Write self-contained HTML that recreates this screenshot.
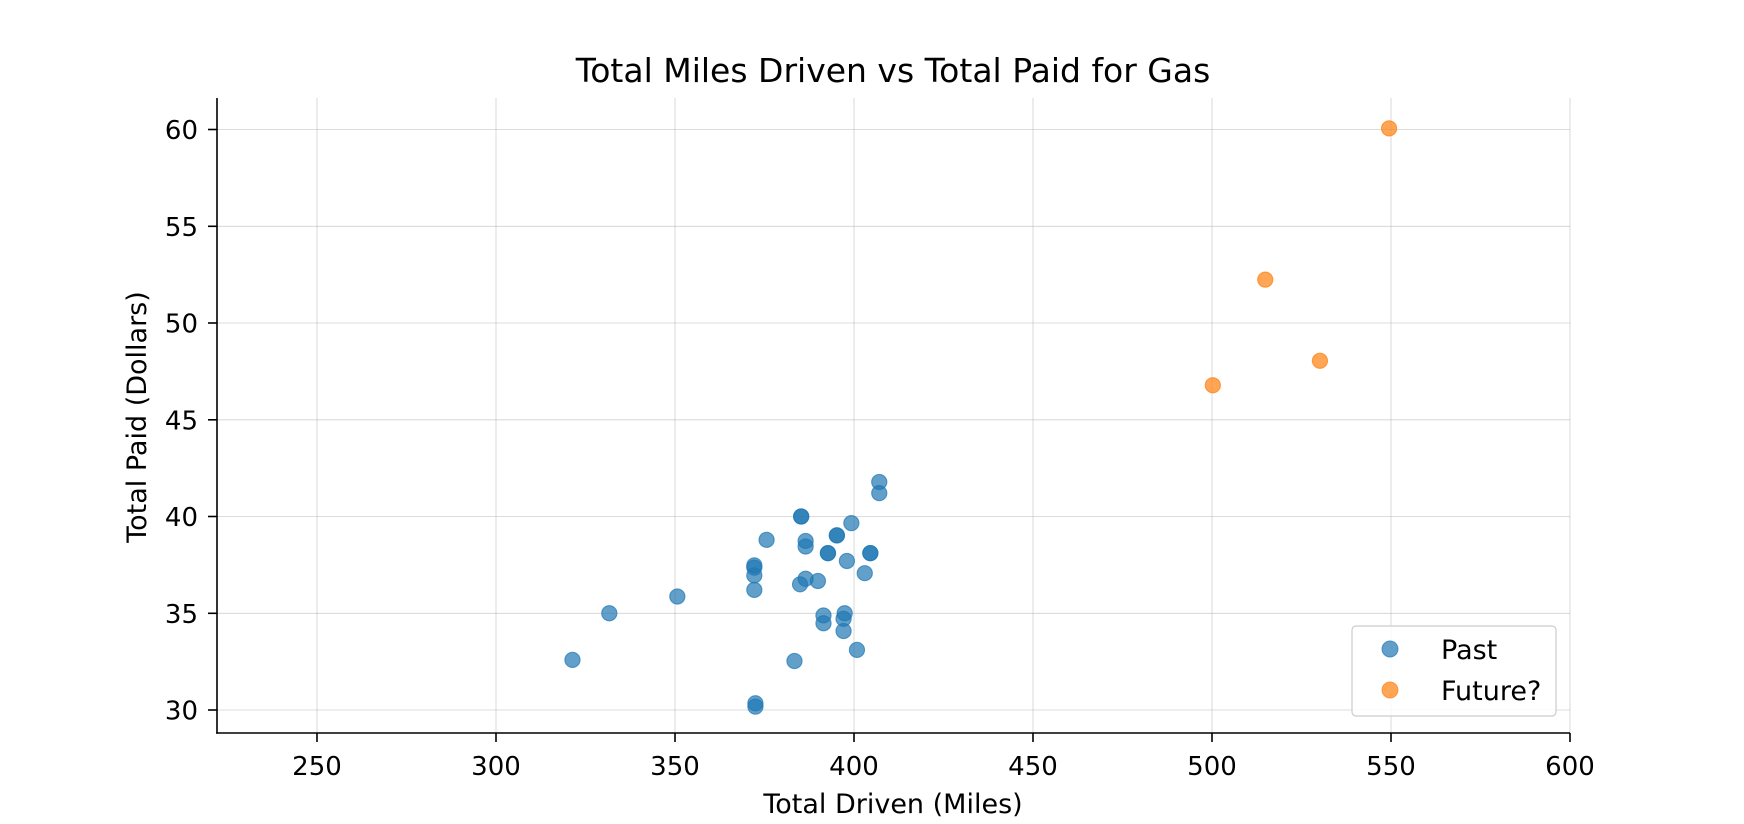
<!DOCTYPE html>
<html><head><style>body{margin:0;background:#fff}svg{display:block}text{font-family:"DejaVu Sans","Liberation Sans",sans-serif;fill:#000}</style></head>
<body>
<svg width="1744" height="824" viewBox="0 0 1744 824">
<rect width="1744" height="824" fill="#fff"/>
<g stroke="#b0b0b0" stroke-width="0.8" stroke-opacity="0.6">
<line x1="317" y1="98" x2="317" y2="733"/><line x1="496" y1="98" x2="496" y2="733"/><line x1="675" y1="98" x2="675" y2="733"/><line x1="854" y1="98" x2="854" y2="733"/><line x1="1033" y1="98" x2="1033" y2="733"/><line x1="1212" y1="98" x2="1212" y2="733"/><line x1="1391" y1="98" x2="1391" y2="733"/><line x1="1570" y1="98" x2="1570" y2="733"/>
<line x1="217" y1="129.5" x2="1570" y2="129.5"/><line x1="217" y1="226.3" x2="1570" y2="226.3"/><line x1="217" y1="323" x2="1570" y2="323"/><line x1="217" y1="419.8" x2="1570" y2="419.8"/><line x1="217" y1="516.5" x2="1570" y2="516.5"/><line x1="217" y1="613.3" x2="1570" y2="613.3"/><line x1="217" y1="710" x2="1570" y2="710"/>
</g>
<g stroke="#000" stroke-width="1.6">
<line x1="217" y1="98" x2="217" y2="733.8"/><line x1="216.2" y1="733" x2="1570" y2="733"/>
<line x1="317" y1="733" x2="317" y2="742"/><line x1="496" y1="733" x2="496" y2="742"/><line x1="675" y1="733" x2="675" y2="742"/><line x1="854" y1="733" x2="854" y2="742"/><line x1="1033" y1="733" x2="1033" y2="742"/><line x1="1212" y1="733" x2="1212" y2="742"/><line x1="1391" y1="733" x2="1391" y2="742"/><line x1="1570" y1="733" x2="1570" y2="742"/>
<line x1="208" y1="129.5" x2="217" y2="129.5"/><line x1="208" y1="226.3" x2="217" y2="226.3"/><line x1="208" y1="323" x2="217" y2="323"/><line x1="208" y1="419.8" x2="217" y2="419.8"/><line x1="208" y1="516.5" x2="217" y2="516.5"/><line x1="208" y1="613.3" x2="217" y2="613.3"/><line x1="208" y1="710" x2="217" y2="710"/>
</g>
<g font-size="26" text-anchor="middle">
<text x="317" y="775">250</text><text x="496" y="775">300</text><text x="675" y="775">350</text><text x="854" y="775">400</text><text x="1033" y="775">450</text><text x="1212" y="775">500</text><text x="1391" y="775">550</text><text x="1570" y="775">600</text>
</g>
<g font-size="26" text-anchor="end">
<text x="198" y="139">60</text><text x="198" y="235.8">55</text><text x="198" y="332.5">50</text><text x="198" y="429.3">45</text><text x="198" y="526">40</text><text x="198" y="622.8">35</text><text x="198" y="719.5">30</text>
</g>
<text x="893" y="82" font-size="33" text-anchor="middle">Total Miles Driven vs Total Paid for Gas</text>
<text x="893" y="813" font-size="27" text-anchor="middle">Total Driven (Miles)</text>
<text transform="translate(146,417) rotate(-90)" font-size="27" text-anchor="middle">Total Paid (Dollars)</text>
<g transform="translate(317,129.5) scale(1.1156,1.112) translate(-288,-116)">
<g fill="#1f77b4" fill-opacity="0.7" stroke="#1f77b4" stroke-opacity="0.7" stroke-width="1">
<circle cx="517" cy="593" r="6.8"/><circle cx="550" cy="551" r="6.8"/><circle cx="611" cy="536" r="6.8"/><circle cx="680" cy="530" r="6.8"/><circle cx="680" cy="517" r="6.8"/><circle cx="680" cy="510" r="6.8"/><circle cx="680" cy="508" r="6.8"/><circle cx="681" cy="632" r="6.8"/><circle cx="681" cy="635" r="6.8"/><circle cx="691" cy="485" r="6.8"/><circle cx="716" cy="594" r="6.8"/><circle cx="721" cy="525" r="6.8"/><circle cx="722" cy="464" r="6.8"/><circle cx="722" cy="464" r="6.8"/><circle cx="726" cy="491" r="6.8"/><circle cx="726" cy="486" r="6.8"/><circle cx="726" cy="520" r="6.8"/><circle cx="737" cy="522" r="6.8"/><circle cx="742" cy="553" r="6.8"/><circle cx="742" cy="560" r="6.8"/><circle cx="746" cy="497" r="6.8"/><circle cx="746" cy="497" r="6.8"/><circle cx="754" cy="481" r="6.8"/><circle cx="754" cy="481" r="6.8"/><circle cx="760" cy="567" r="6.8"/><circle cx="760" cy="556" r="6.8"/><circle cx="761" cy="551" r="6.8"/><circle cx="763" cy="504" r="6.8"/><circle cx="767" cy="470" r="6.8"/><circle cx="772" cy="584" r="6.8"/><circle cx="779" cy="515" r="6.8"/><circle cx="784" cy="497" r="6.8"/><circle cx="784" cy="497" r="6.8"/><circle cx="792" cy="433" r="6.8"/><circle cx="792" cy="443" r="6.8"/>
</g>
<g fill="#ff7f0e" fill-opacity="0.7" stroke="#ff7f0e" stroke-opacity="0.7" stroke-width="1">
<circle cx="1091" cy="346" r="6.8"/><circle cx="1138" cy="251" r="6.8"/><circle cx="1187" cy="324" r="6.8"/><circle cx="1249" cy="115" r="6.8"/>
</g>
</g>
<rect x="1352" y="626" width="204" height="90" rx="4" fill="#fff" fill-opacity="0.8" stroke="#ccc" stroke-width="1.2"/>
<circle cx="1390" cy="649" r="8" fill="#1f77b4" fill-opacity="0.7" stroke="#1f77b4" stroke-opacity="0.7"/>
<circle cx="1390" cy="690" r="8" fill="#ff7f0e" fill-opacity="0.7" stroke="#ff7f0e" stroke-opacity="0.7"/>
<text x="1441" y="659" font-size="27">Past</text>
<text x="1441" y="700" font-size="27">Future?</text>
</svg>
</body></html>
